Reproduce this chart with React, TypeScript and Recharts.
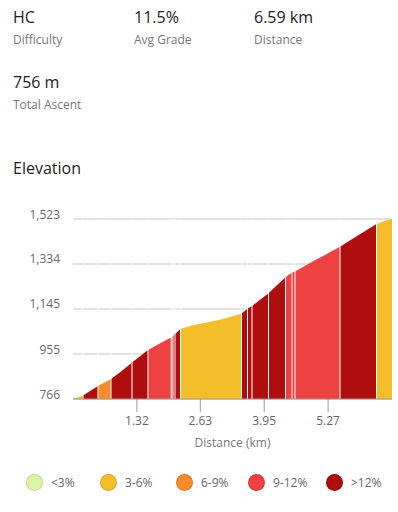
import React from 'react';
import { AreaChart, Area, XAxis, YAxis, CartesianGrid, ReferenceLine, Label } from 'recharts';

// elevation profile (km, m)
const distances = [
  0, 0.207, 0.516, 0.785, 1.0, 1.219, 1.549, 1.8, 2.03, 2.066, 2.107, 2.221, 2.417, 2.83,
  3.099, 3.481, 3.605, 3.698, 4.039, 4.39, 4.524, 4.586, 5.0, 5.516, 5.9, 6.27, 6.45, 6.59,
];
const elevations = [
  766, 781, 821, 850, 883, 920, 972, 1000, 1025, 1031, 1039, 1060, 1073, 1091,
  1102, 1126, 1146, 1157, 1211, 1278, 1298, 1302, 1349, 1406, 1456, 1502, 1516, 1523,
];

// segments: end distance + grade class (index into gradeLabels)
const segmentEnds = [
  0.207, 0.516, 0.785, 1.219, 1.549, 2.03, 2.066, 2.107, 2.221, 3.481,
  3.605, 3.698, 4.039, 4.39, 4.524, 4.586, 5.516, 6.27, 6.59,
];
const segmentGrades = [1, 4, 2, 4, 4, 3, 3, 4, 4, 1, 4, 4, 4, 4, 3, 3, 3, 4, 1];

const gradeLabels = ['<3%', '3-6%', '6-9%', '9-12%', '>12%'];
const gradeColors = ['#d9f5a3', '#f4be2b', '#f78b2b', '#ee4141', '#ae0e0e'];

const yTicks = [766, 955, 1145, 1334, 1523];
const xTicks = [1.32, 2.63, 3.95, 5.27];

const statValues = ['HC', '11.5%', '6.59 km', '756 m'];
const statLabels = ['Difficulty', 'Avg Grade', 'Distance', 'Total Ascent'];

const segmentStarts = [0, ...segmentEnds.slice(0, -1)];

const chartData = distances.map((d, i) => {
  const row: Record<string, number | null> = { d, e: elevations[i] };
  segmentEnds.forEach((end, k) => {
    row[`s${k}`] = d >= segmentStarts[k] - 1e-9 && d <= end + 1e-9 ? elevations[i] : null;
  });
  return row;
});

const statPos = [
  { left: 13, top: 0 },
  { left: 134, top: 0 },
  { left: 254, top: 0 },
  { left: 13, top: 65 },
];
const legendLeft = [26, 100, 176, 248, 326];

const YTick = ({ x, y, payload }: any) => (
  <text x={x} y={y - 5} textAnchor="end" dominantBaseline="central" fill="#666" fontSize={12}>
    {Number(payload.value).toLocaleString('en-US')}
  </text>
);

const App: React.FC = () => {
  return (
    <div
      style={{
        position: 'absolute',
        left: 0,
        top: 0,
        width: 398,
        height: 512,
        fontFamily: '"Open Sans", sans-serif',
        background: '#fff',
      }}
    >
      {statValues.map((v, i) => (
        <React.Fragment key={v}>
          <div
            style={{
              position: 'absolute',
              left: statPos[i].left,
              top: statPos[i].top + 8.5,
              fontSize: 16,
              lineHeight: '16px',
              color: '#222',
              whiteSpace: 'nowrap',
            }}
          >
            {v}
          </div>
          <div
            style={{
              position: 'absolute',
              left: statPos[i].left,
              top: statPos[i].top + 33.6,
              fontSize: 12,
              lineHeight: '12px',
              color: '#777',
              whiteSpace: 'nowrap',
            }}
          >
            {statLabels[i]}
          </div>
        </React.Fragment>
      ))}

      <div
        style={{
          position: 'absolute',
          left: 13,
          top: 160,
          fontSize: 16,
          lineHeight: '16px',
          color: '#222',
        }}
      >
        Elevation
      </div>

      <div style={{ position: 'absolute', left: 0, top: 200 }}>
        <AreaChart
          width={398}
          height={260}
          data={chartData}
          margin={{ top: 19, right: 6, left: 0, bottom: 11 }}
        >
          <CartesianGrid vertical={false} stroke="#e2e2e2" strokeWidth={2} />
          <XAxis
            dataKey="d"
            type="number"
            domain={[0, 6.59]}
            ticks={xTicks}
            stroke="#999"
            tickSize={13}
            tickMargin={4}
            tick={{ fill: '#666', fontSize: 12 }}
            height={50}
          >
            <Label value="Distance (km)" position="insideBottom" offset={2} fill="#777" fontSize={12} />
          </XAxis>
          <YAxis
            type="number"
            domain={[766, 1523]}
            ticks={yTicks}
            width={73}
            axisLine={false}
            tickLine={false}
            tickSize={0}
            tickMargin={13}
            tick={<YTick />}
          />
          {segmentEnds.map((_, k) => (
            <Area
              key={`s${k}`}
              dataKey={`s${k}`}
              type="linear"
              stroke="none"
              fill={gradeColors[segmentGrades[k]]}
              fillOpacity={1}
              dot={false}
              activeDot={false}
              isAnimationActive={false}
            />
          ))}
          {segmentEnds.slice(0, -1).map((x) => (
            <ReferenceLine key={`sep${x}`} x={x} stroke="#fff" strokeWidth={1} />
          ))}
        </AreaChart>
      </div>

      {gradeLabels.map((g, i) => (
        <div
          key={g}
          style={{
            position: 'absolute',
            left: legendLeft[i],
            top: 473,
            height: 18,
            display: 'flex',
            alignItems: 'center',
            fontSize: 12,
            color: '#666',
            whiteSpace: 'nowrap',
          }}
        >
          <span
            style={{
              display: 'inline-block',
              width: 17,
              height: 17,
              boxSizing: 'border-box',
              borderRadius: '50%',
              background: gradeColors[i],
              border: '1px solid rgba(0,0,0,0.12)',
              marginRight: 8,
            }}
          />
          {g}
        </div>
      ))}
    </div>
  );
};

export default App;
